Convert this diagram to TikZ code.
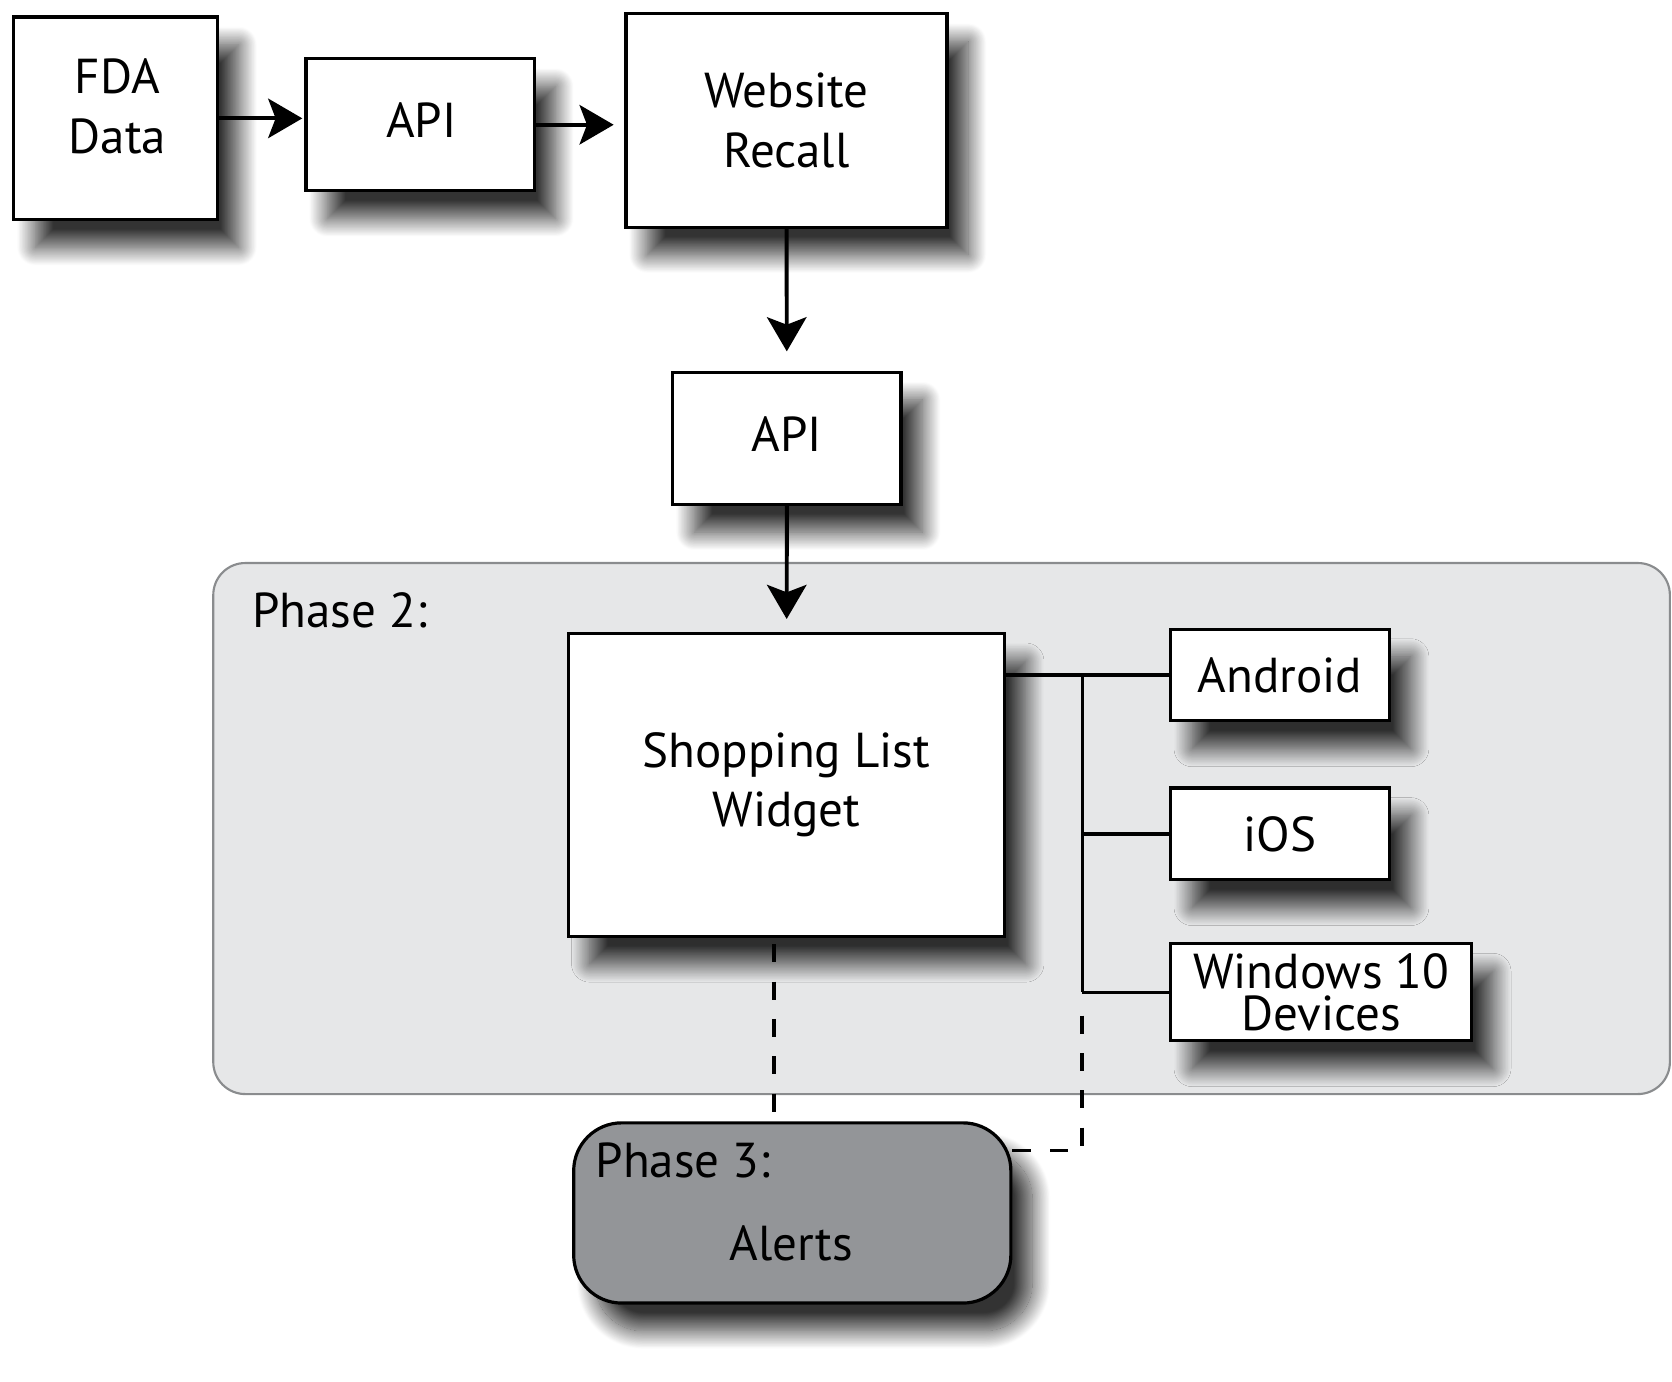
\documentclass[tikz,border=0pt]{standalone}
\usepackage{fontspec}
\setmainfont{PT Sans}
\usepackage{tikz}
\usetikzlibrary{arrows.meta,shadows.blur}

\definecolor{phasefill}{HTML}{E6E7E8}
\definecolor{phaseedge}{HTML}{8A8C8E}
\definecolor{alertfill}{HTML}{939598}

\tikzset{
  boxshade/.style={blur shadow={shadow xshift=20pt,shadow yshift=-26pt,shadow blur radius=17pt,shadow blur steps=30,shadow opacity=80}},
  stagebox/.style={draw,line width=3pt,fill=white,align=center,inner sep=0pt,boxshade},
  flow/.style={line width=3.7pt,-{Stealth[length=32pt,width=37pt,inset=7pt]}},
  bus/.style={line width=3.2pt},
  phaselink/.style={line width=3.5pt,dash pattern=on 17pt off 18pt},
}

\begin{document}
\begin{tikzpicture}[x=1pt,y=1pt,yscale=-1,xscale=1,font=\fontsize{46}{56}\selectfont]
\useasboundingbox (0,0) rectangle (1568,1296);

%Phase 2 area
\node [draw=phaseedge,line width=2pt,fill=phasefill,rounded corners=30pt,minimum width=1366pt,minimum height=498pt,inner sep=0pt] (phasetwo) at (883,777) {};

%top row
\node [stagebox,minimum width=191pt,minimum height=190pt] (fda) at (108.5,111) {};
\node [stagebox,minimum width=214pt,minimum height=124pt] (apiA) at (394,117) {};
\node [stagebox,minimum width=301pt,minimum height=200pt] (recall) at (737.5,113) {Website\\Recall};
\node [stagebox,minimum width=214pt,minimum height=124pt] (apiB) at (738,411) {};

%Phase 2 boxes
\node [stagebox,minimum width=409pt,minimum height=284pt] (widget) at (737.5,736) {Shopping List\\Widget};
\node [stagebox,minimum width=205pt,minimum height=86pt] (android) at (1200.5,633) {Android};
\node [stagebox,minimum width=205pt,minimum height=86pt] (ios) at (1200.5,782) {iOS};
\node [stagebox,minimum width=282pt,minimum height=91pt,font=\fontsize{46}{39}\selectfont] (windows) at (1239,930.5) {Windows 10\\Devices};

%Phase 3
\node [draw,line width=3pt,fill=alertfill,rounded corners=45pt,minimum width=410pt,minimum height=169pt,inner sep=0pt,boxshade] (alerts) at (743,1137.5) {};

\coordinate (busx) at (1015,0);
\coordinate (dropx) at (726,0);
\coordinate (linky) at (0,1079);

%arrows
\draw [flow,shorten >=2pt] (fda) -- (fda -| apiA.west);
\draw [flow,shorten >=10pt] (apiA) -- (apiA -| recall.west);
\draw [flow,shorten >=18pt] (recall) -- (apiB);
\draw [flow,shorten >=12pt] (apiB) -- (widget);

%bus to devices
\draw [bus] (widget.east |- android) -- (android.west);
\draw [bus] (busx |- android) -- (busx |- windows);
\draw [bus] (busx |- ios) -- (ios.west);
\draw [bus] (busx |- windows) -- (windows.west);

%dashed links to Phase 3
\draw [phaselink] ([yshift=6pt]dropx |- widget.south) -- (dropx |- alerts.north);
\draw [phaselink] ([yshift=22pt]busx |- windows) -- (busx |- linky) -- (alerts.east |- linky);

% Text Node
\node [align=center] at (110,100) {FDA\\Data};
% Text Node
\node at (395,113) {API};
% Text Node
\node at (738,407) {API};
% Text Node
\node [anchor=base west] at (233,588) {Phase 2:};
% Text Node
\node [anchor=base west] at (555,1104) {Phase 3:};
% Text Node
\node [anchor=base] at (742,1182) {Alerts};
\end{tikzpicture}
\end{document}
